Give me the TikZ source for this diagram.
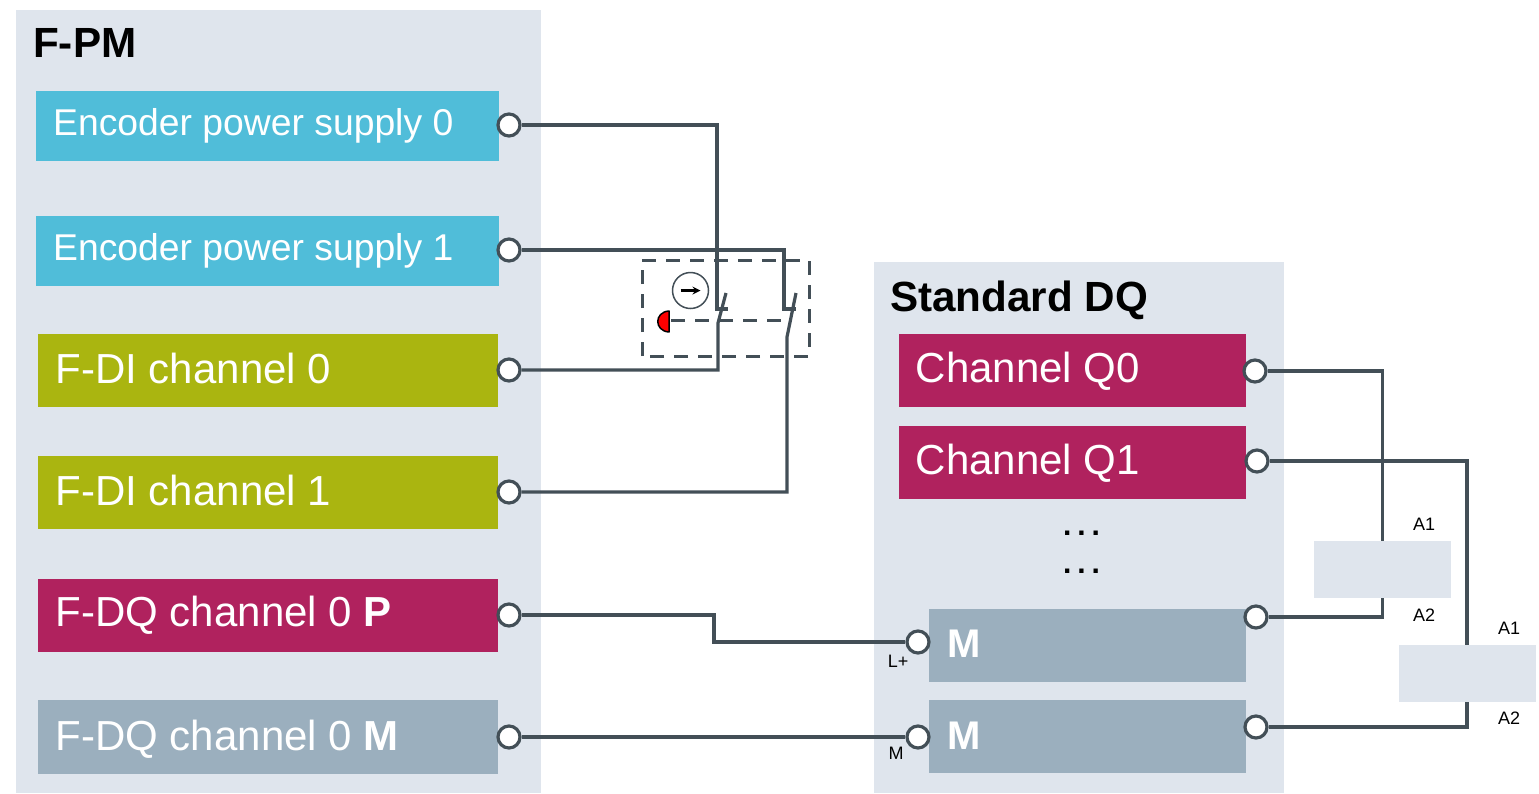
\documentclass[tikz,border=0pt]{standalone}
\usepackage{fontspec}
\setmainfont{Liberation Sans}
\usetikzlibrary{positioning}

\definecolor{panelcol}{HTML}{DFE5ED}
\definecolor{tealcol}{HTML}{50BDD9}
\definecolor{olivecol}{HTML}{AAB510}
\definecolor{crimsoncol}{HTML}{B0225E}
\definecolor{slatecol}{HTML}{9BAFBE}
\definecolor{wirecol}{HTML}{434F57}

\tikzset{
  panel/.style={fill=panelcol, anchor=north west, inner sep=0pt},
  chbox/.style={anchor=north west, inner sep=0pt, text=white, align=left, font=\fontsize{42}{44}\selectfont},
  enctext/.style={anchor=west, inner sep=0pt, text=white, font=\fontsize{37.3}{40}\selectfont},
  coil/.style={fill=panelcol, anchor=north west, inner sep=0pt, minimum width=137pt, minimum height=57pt},
  term/.style={circle, draw=wirecol, fill=white, line width=3.2pt, inner sep=0pt, minimum size=22pt},
  wire/.style={draw=wirecol, line width=3.2pt},
  dashline/.style={wirecol, line width=3pt, dash pattern=on 14pt off 10pt},
  tiny/.style={inner sep=0pt, font=\fontsize{18}{20}\selectfont},
  dotrow/.style={inner sep=0pt, font=\fontsize{30}{32}\selectfont\bfseries},
  heading/.style={anchor=west, inner sep=0pt, font=\fontsize{42.2}{44}\selectfont\bfseries}
}

\begin{document}
\begin{tikzpicture}[x=1pt,y=-1pt]
    \useasboundingbox (0,0) rectangle (1539,793);

    % panels
    \node[panel, minimum width=525pt, minimum height=783pt] (fpm) at (16,10) {};
    \node[panel, minimum width=410pt, minimum height=531pt] (dq) at (874,262) {};
    \node[heading] (fpmtitle) at (33,43) {F-PM};
    \node[heading] (dqtitle) at (890,300) {Standard DQ};

    % F-PM channels
    \node[chbox, fill=tealcol, minimum width=463pt, minimum height=70pt] (enc0) at (36,91) {};
    \node[chbox, fill=tealcol, minimum width=463pt, minimum height=70pt] (enc1) at (36,216) {};
    \node[chbox, fill=olivecol, minimum width=460pt, minimum height=73pt] (di0) at (38,334) {};
    \node[chbox, fill=olivecol, minimum width=460pt, minimum height=73pt] (di1) at (38,456) {};
    \node[chbox, fill=crimsoncol, minimum width=460pt, minimum height=73pt] (dqp) at (38,579) {};
    \node[chbox, fill=slatecol, minimum width=460pt, minimum height=74pt] (dqm) at (38,700) {};
    \node[enctext] (enc0txt) at (53,126) {Encoder power supply 0};
    \node[enctext] (enc1txt) at (53,251) {Encoder power supply 1};
    \node[chbox, anchor=west] (di0txt) at (55.5,368) {F-DI channel 0};
    \node[chbox, anchor=west] (di1txt) at (55.5,490) {F-DI channel 1};
    \node[chbox, anchor=west] (dqptxt) at (55.5,615) {F-DQ channel 0 \textbf{P}};
    \node[chbox, anchor=west] (dqmtxt) at (55.5,739) {F-DQ channel 0 \textbf{M}};

    % Standard DQ channels
    \node[chbox, fill=crimsoncol, minimum width=347pt, minimum height=73pt] (q0) at (899,334) {};
    \node[chbox, fill=crimsoncol, minimum width=347pt, minimum height=73pt] (q1) at (899,426) {};
    \node[chbox, fill=slatecol, minimum width=317pt, minimum height=73pt] (m0) at (929,609) {};
    \node[chbox, fill=slatecol, minimum width=317pt, minimum height=73pt] (m1) at (929,700) {};
    \node[chbox, anchor=west] (q0txt) at (915.5,371) {Channel Q0};
    \node[chbox, anchor=west] (q1txt) at (915.5,463) {Channel Q1};
    \node[chbox, anchor=west, font=\fontsize{40}{44}\selectfont\bfseries] (m0txt) at (947,644) {M};
    \node[chbox, anchor=west, font=\fontsize{40}{44}\selectfont\bfseries] (m1txt) at (947,736) {M};
    \node[dotrow] (dots0) at (1081.5,533) {.\hspace{6pt}.\hspace{6pt}.};
    \node[dotrow] (dots1) at (1081.5,571) {.\hspace{6pt}.\hspace{6pt}.};

    % relay coils
    \node[coil] (k0) at (1314,541) {};
    \node[coil] (k1) at (1399,645) {};

    % terminals
    \node[term] (tenc0) at (509,125) {};
    \node[term] (tenc1) at (509,250) {};
    \node[term] (tdi0) at (509,370) {};
    \node[term] (tdi1) at (509,492) {};
    \node[term] (tdqp) at (509,615) {};
    \node[term] (tdqm) at (509,737) {};
    \node[term] (tlp) at (918,642) {};
    \node[term] (tm) at (918,737) {};
    \node[term] (tq0) at (1255,371) {};
    \node[term] (tq1) at (1257,461) {};
    \node[term] (tm0) at (1256,617) {};
    \node[term] (tm1) at (1256,727) {};

    % estop contacts
    \coordinate (seat0) at (717,309);
    \coordinate (seat1) at (784,309);
    \coordinate (blade0) at (718,323);
    \coordinate (blade1) at (787,337);

    \draw[dashline] (642,356) -- (642,260) -- (809,260) -- (809,356) -- cycle;
    \draw[dashline] (671,320) -- (784,320);

    \draw[wire] (tenc0) -| (seat0) -- ++(11,0);
    \draw[wire] (tenc1) -| (seat1) -- ++(12,0);
    \draw[wire] (tdi0) -| (blade0) -- (726,293);
    \draw[wire] (tdi1) -| (blade1) -- (796,293);

    \node[circle, draw=wirecol, line width=1.5pt, inner sep=0pt, minimum size=36pt] (sense) at (690.5,290.5) {};
    \draw[black, line width=2.5pt, ->, >=stealth] ([xshift=-10pt]sense.center) -- ([xshift=10pt]sense.center);
    \draw[black, fill=red, line width=1.5pt, line join=round] (669,311) .. controls (654,312) and (654,331) .. (669,332) -- cycle;

    % field wiring
    \draw[wire] (tdqp) -- (714,615) -- (714,642) -- (tlp);
    \draw[wire] (tdqm) -- (tm);
    \draw[wire] (tq0) -| (k0.north);
    \draw[wire] (tm0) -| (k0.south);
    \draw[wire] (tq1) -| (1467,645);
    \draw[wire] (tm1) -| (1467,702);

    % small labels
    \node[tiny] (lp) at (898,661) {L+};
    \node[tiny] (lm) at (896,753) {M};
    \node[tiny] (a10) at (1424,524) {A1};
    \node[tiny] (a20) at (1424,615) {A2};
    \node[tiny] (a11) at (1509,628) {A1};
    \node[tiny] (a21) at (1509,718) {A2};
\end{tikzpicture}
\end{document}
